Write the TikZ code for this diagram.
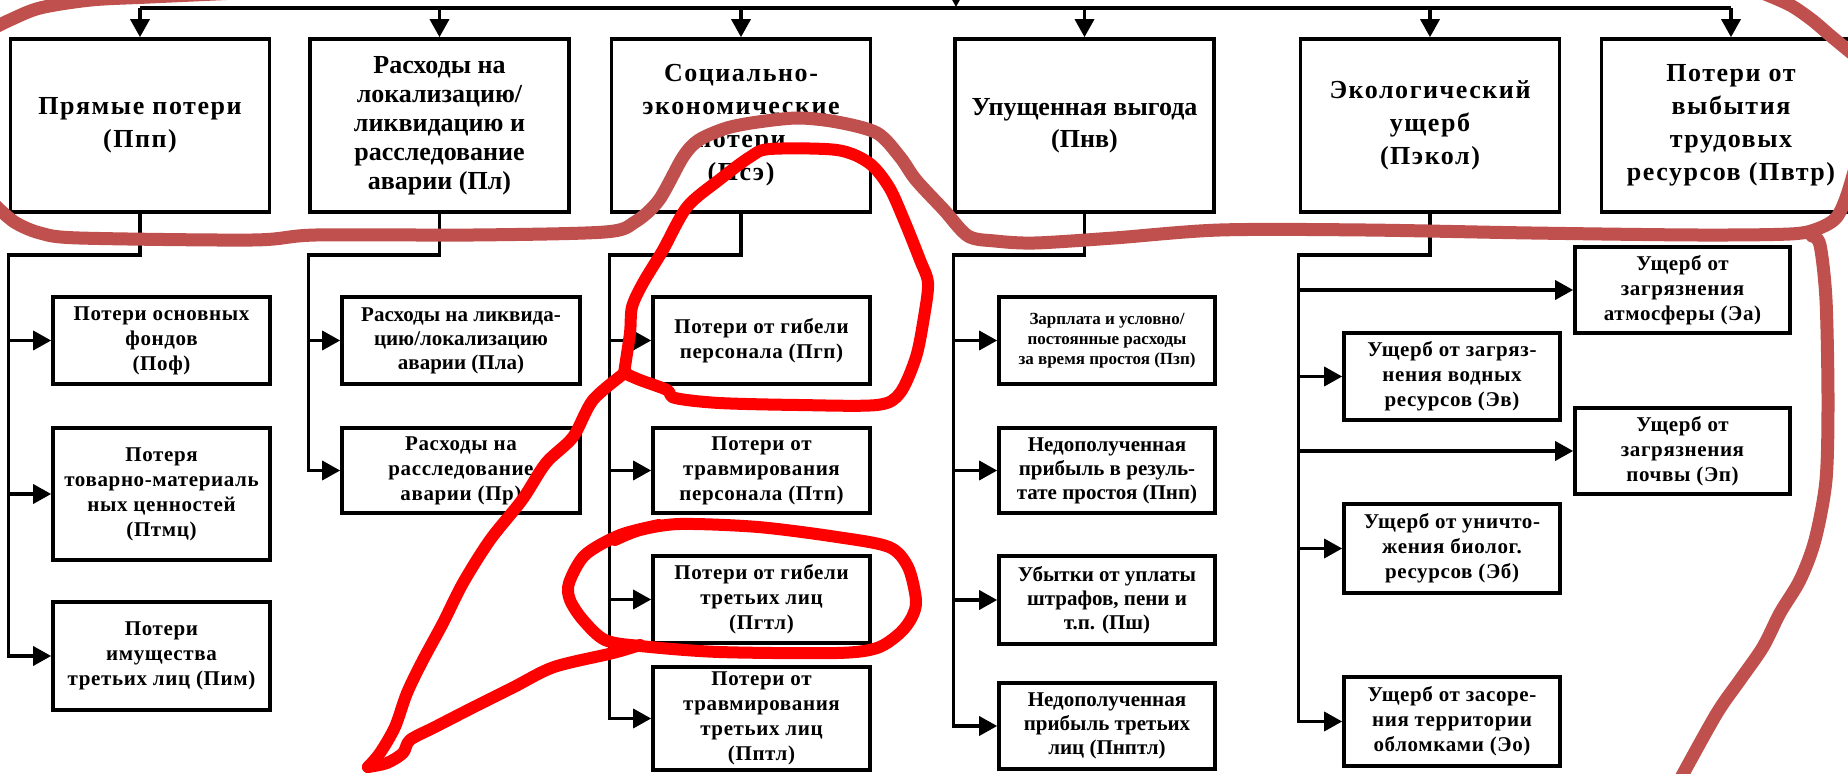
\documentclass[tikz,border=0pt]{standalone}
\usepackage{fontspec}
\setmainfont{Liberation Serif}
\newfontfamily\topfont[LetterSpace=6]{Liberation Serif}
\newfontfamily\subfont[LetterSpace=3]{Liberation Serif}
\usetikzlibrary{arrows.meta}
\definecolor{markbrown}{RGB}{192,80,77}
\definecolor{markred}{RGB}{255,0,0}

\begin{document}
\begin{tikzpicture}[x=0.5pt, y=-0.5pt,
    box/.style={draw, line width=1.8pt, inner sep=0pt, align=center},
    topbox/.style={box, minimum width=129.5pt, minimum height=86.5pt,
        font={\topfont\bfseries\fontsize{13}{16.5}\selectfont}},
    subbox/.style={box, font={\subfont\bfseries\fontsize{10.5}{12.5}\selectfont}},
    subplain/.style={box, font={\bfseries\fontsize{10.5}{12}\selectfont}},
    wire/.style={line width=1.7pt},
    link/.style={wire, -{Triangle[length=9pt,width=9.5pt]}},
    brownmark/.style={markbrown, line width=6.5pt, line cap=round, line join=round},
    redmark/.style={markred, line width=6pt, line cap=round, line join=round}]
    \fill[white] (0,0) rectangle (1848,774);
    \useasboundingbox (0,0) rectangle (1848,774);
    \clip (0,0) rectangle (1848,774);

    % top row
    \node[topbox] (pp) at (140,125.5) {Прямые потери\\(Ппп)};
    \node[topbox, font={\bfseries\fontsize{13}{14.5}\selectfont}] (pl) at (439.5,125.5)
        {Расходы на\\локализацию/\\ликвидацию и\\расследование\\аварии (Пл)};
    \node[topbox] (pse) at (741,125.5) {Социально-\\экономические\\потери\\(Псэ)};
    \node[topbox, font={\bfseries\fontsize{13}{16}\selectfont}] (pnv) at (1084.5,125.5)
        {Упущенная выгода\\(Пнв)};
    \node[topbox] (pekol) at (1430,125.5) {Экологический\\ущерб\\(Пэкол)};
    \node[topbox] (pvtr) at (1731,125.5) {Потери от\\выбытия\\трудовых\\ресурсов (Пвтр)};

    % column 1
    \node[subbox, minimum width=108.5pt, minimum height=43.5pt] (pof) at (161.5,340.5)
        {Потери основных\\фондов\\(Поф)};
    \node[subbox, minimum width=108.5pt, minimum height=66pt] (ptmc) at (161.5,494)
        {Потеря\\товарно-материаль\\ных ценностей\\(Птмц)};
    \node[subbox, minimum width=108.5pt, minimum height=54pt] (pim) at (161.5,656)
        {Потери\\имущества\\третьих лиц (Пим)};

    % column 2
    \node[subplain, minimum width=119pt, minimum height=43.5pt] (pla) at (461,340.5)
        {Расходы на ликвида-\\цию/локализацию\\аварии (Пла)};
    \node[subbox, minimum width=119pt, minimum height=42.5pt] (ppr) at (461,470.5)
        {Расходы на\\расследование\\аварии (Пр)};

    % column 3
    \node[subbox, minimum width=108.5pt, minimum height=43.5pt] (pgp) at (761.5,340.5)
        {Потери от гибели\\персонала (Пгп)};
    \node[subbox, minimum width=108.5pt, minimum height=42.5pt] (ptp) at (761.5,470.5)
        {Потери от\\травмирования\\персонала (Птп)};
    \node[subbox, minimum width=108.5pt, minimum height=43.5pt] (pgtl) at (761.5,599.5)
        {Потери от гибели\\третьих лиц\\(Пгтл)};
    \node[subbox, minimum width=108.5pt, minimum height=51.5pt] (pptl) at (761.5,718.5)
        {Потери от\\травмирования\\третьих лиц\\(Пптл)};

    % column 4
    \node[box, font={\bfseries\fontsize{8.5}{10}\selectfont}, minimum width=108pt,
        minimum height=43.5pt] (pzp) at (1107,340.5)
        {Зарплата и условно/\\постоянные расходы\\за время простоя (Пзп)};
    \node[subplain, minimum width=108pt, minimum height=42.5pt] (pnp) at (1107,470.5)
        {Недополученная\\прибыль в резуль-\\тате простоя (Пнп)};
    \node[subplain, minimum width=108pt, minimum height=44pt] (psh) at (1107,600)
        {Убытки от уплаты\\штрафов, пени и\\т.п. (Пш)};
    \node[subplain, minimum width=108pt, minimum height=43pt] (pnptl) at (1107,726)
        {Недополученная\\прибыль третьих\\лиц (Пнптл)};

    % column 5
    \node[subbox, minimum width=107.5pt, minimum height=43pt] (ea) at (1682.5,290)
        {Ущерб от\\загрязнения\\атмосферы (Эа)};
    \node[subbox, minimum width=108pt, minimum height=43.5pt] (ev) at (1452,376.5)
        {Ущерб от загряз-\\нения водных\\ресурсов (Эв)};
    \node[subbox, minimum width=107.5pt, minimum height=43pt] (ep) at (1682.5,451)
        {Ущерб от\\загрязнения\\почвы (Эп)};
    \node[subbox, minimum width=108pt, minimum height=44.5pt] (eb) at (1452,548.5)
        {Ущерб от уничто-\\жения биолог.\\ресурсов (Эб)};
    \node[subbox, minimum width=108pt, minimum height=44.5pt] (eo) at (1452,721.5)
        {Ущерб от засоре-\\ния территории\\обломками (Эо)};

    % bus
    \coordinate (root) at (956,-40);
    \draw[link] (root) -- (root |- 0,7);
    \draw[wire] (pp.north |- 0,8) -- (pvtr.north |- 0,8);
    \foreach \b in {pp,pl,pse,pnv,pekol,pvtr}
        \draw[link] (\b.north |- 0,8) -- (\b.north);

    % branches
    \draw[link] (pp.south) |- (pp.west |- 0,255) |- (pim.west);
    \foreach \s in {pof,ptmc}
        \draw[link] (pp.west |- \s.west) -- (\s.west);
    \draw[link] (pl.south) |- (pl.west |- 0,255) |- (ppr.west);
    \draw[link] (pl.west |- pla.west) -- (pla.west);
    \draw[link] (pse.south) |- (pse.west |- 0,255) |- (pptl.west);
    \foreach \s in {pgp,ptp,pgtl}
        \draw[link] (pse.west |- \s.west) -- (\s.west);
    \draw[link] (pnv.south) |- (pnv.west |- 0,255) |- (pnptl.west);
    \foreach \s in {pzp,pnp,psh}
        \draw[link] (pnv.west |- \s.west) -- (\s.west);
    \draw[link] (pekol.south) |- (pekol.west |- 0,255) |- (eo.west);
    \foreach \s in {ea,ev,ep,eb}
        \draw[link] (pekol.west |- \s.west) -- (\s.west);

    % hand marks
    \draw[brownmark] plot[smooth] coordinates {(260,-8) (150,-3) (91,0) (40,8) (10,20) (-10,30)};
    \draw[brownmark] plot[smooth] coordinates {(-10,200) (0,210) (16,223) (40,233) (79,238)
        (253,240) (316,235) (474,235) (605,232) (635,222) (659,200) (683,157) (699,140)
        (727,128) (758,122) (798,118) (837,122) (877,133) (900,157) (916,180) (944,210)
        (968,236) (995,241) (1035,243) (1114,238) (1220,230) (1365,230) (1531,233)
        (1696,235) (1790,234) (1817,229) (1836,218) (1847,195) (1860,150)};
    \draw[brownmark] plot[smooth] coordinates {(1760,-8) (1790,5) (1812,20) (1832,37) (1860,60)};
    \draw[brownmark] plot[smooth] coordinates {(1812,236) (1820,245) (1826,300) (1828,400)
        (1826,480) (1815,540) (1800,580) (1780,613) (1763,647) (1740,680) (1717,713)
        (1683,774) (1675,790)};
    \draw[redmark] plot[smooth] coordinates {(624,373) (630,333) (632,307) (643,283)
        (663,250) (687,207) (719,180) (750,157) (770,149) (837,150) (869,163) (889,187)
        (904,220) (920,260) (928,283) (924,317) (916,357) (900,393) (877,405) (798,405)
        (719,403) (675,398) (667,390) (640,380) (624,373)};
    \draw[redmark] plot[smooth] coordinates {(626,372) (593,400) (573,437) (546,463)
        (522,500) (490,540) (463,583) (443,623) (423,660) (407,693) (395,727) (380,753)
        (368,767)};
    \draw[redmark] plot[smooth] coordinates {(368,767) (387,763) (403,753) (410,740)
        (435,727) (474,707) (514,687) (554,667) (613,653) (640,645)};
    \draw[redmark] plot[smooth] coordinates {(659,525) (620,535) (585,555) (569,583)
        (570,600) (583,620) (605,640) (640,646) (719,652) (837,653) (877,648) (900,633)
        (912,617) (916,600) (908,567) (889,547) (837,537) (758,527) (680,524) (640,530)
        (615,540)};
\end{tikzpicture}
\end{document}
